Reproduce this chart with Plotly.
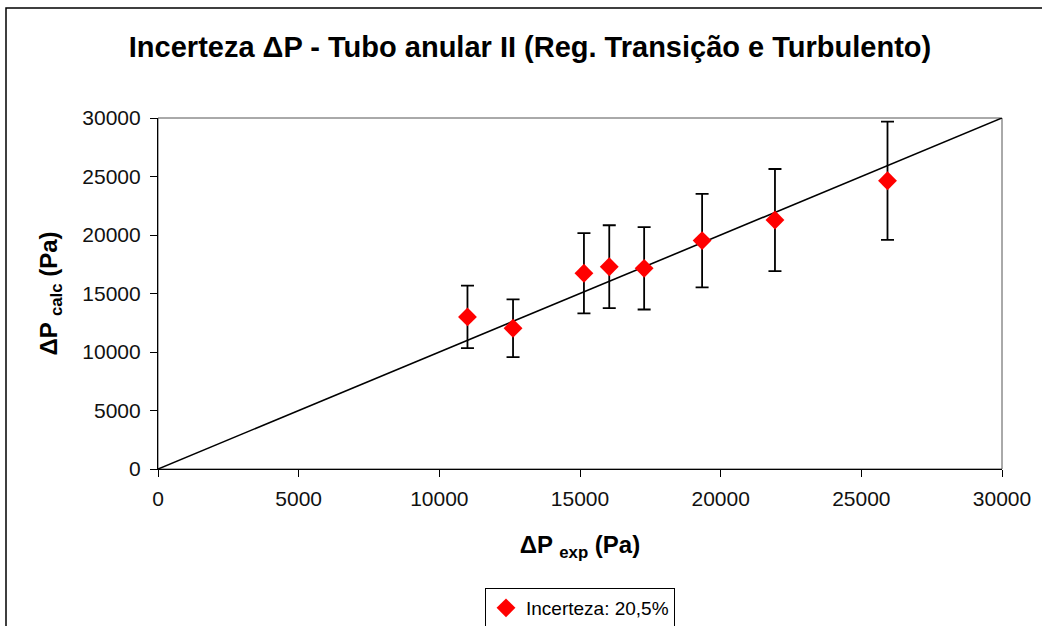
import plotly.graph_objects as go

# Data
dp_exp = [11000, 12620, 15140, 16040, 17280, 19340, 21930, 25930]
dp_calc = [13000, 12030, 16730, 17290, 17150, 19520, 21280, 24640]
uncertainty_pct = 20.5
line_x = [0, 30000]
line_y = [0, 30000]
tick_vals = [0, 5000, 10000, 15000, 20000, 25000, 30000]
tick_text = ["0", "5000", "10000", "15000", "20000", "25000", "30000"]

W, H = 1042, 626
L, R, T, B = 158, 40, 118, 157
pw = W - L - R
ph = H - T - B

font = "Liberation Sans, Arial, sans-serif"

fig = go.Figure()
fig.add_trace(go.Scatter(
    x=line_x, y=line_y, mode="lines",
    line=dict(color="black", width=1.6),
    showlegend=False, hoverinfo="skip",
))
fig.add_trace(go.Scatter(
    x=dp_exp, y=dp_calc, mode="markers",
    name="Incerteza: 20,5%",
    marker=dict(symbol="diamond", color="#FF0000", size=14.5, line=dict(width=0)),
    error_y=dict(type="percent", value=uncertainty_pct, color="black",
                 thickness=1.8, width=6.5),
))

shapes = [
    # plot area border
    dict(type="rect", xref="paper", yref="paper", x0=0, y0=0, x1=1, y1=1,
         line=dict(color="#555555", width=1), fillcolor="rgba(0,0,0,0)", layer="below"),
    # outer chart border
    dict(type="rect", xref="paper", yref="paper",
         x0=(6 - L) / pw, y0=-(H - T) / ph * 1.2, x1=1 + 60 / pw, y1=1 + (T - 8) / ph,
         line=dict(color="black", width=1.5), fillcolor="rgba(0,0,0,0)", layer="below"),
]

axis_common = dict(
    range=[0, 30000], tickvals=tick_vals, ticktext=tick_text, ticks="outside", ticklen=7,
    tickcolor="black", showline=True, linecolor="black", linewidth=1.2,
    showgrid=False, zeroline=False, tickfont=dict(size=21, color="#111"),
)

fig.update_layout(
    width=W, height=H,
    margin=dict(l=L, r=R, t=T, b=B, autoexpand=False),
    paper_bgcolor="white", plot_bgcolor="white",
    font=dict(family=font, color="black", size=20),
    title=dict(
        text="<b>Incerteza ΔP - Tubo anular II (Reg. Transição e Turbulento)</b>",
        x=530 / W, xref="container", xanchor="center",
        y=1 - 47 / H, yref="container", yanchor="middle",
        font=dict(family=font, size=29, color="black"),
    ),
    xaxis=dict(
        **axis_common, ticklabelstandoff=4,
        title=dict(text="<b>ΔP <sub>exp</sub> (Pa)</b>", font=dict(size=24), standoff=26),
    ),
    yaxis=dict(
        **axis_common, ticklabelstandoff=5,
        title=dict(text="<b>ΔP <sub>calc</sub> (Pa)</b>", font=dict(size=24), standoff=17),
    ),
    legend=dict(
        x=0.5, xanchor="center", y=(T + ph - 588) / ph, yanchor="top",
        bordercolor="black", borderwidth=1, bgcolor="white",
        font=dict(size=19, color="black"), itemwidth=30,
    ),
    shapes=shapes,
)

fig.write_html("out.html", config={"displayModeBar": False},
               post_script="document.body.style.margin='0';")
